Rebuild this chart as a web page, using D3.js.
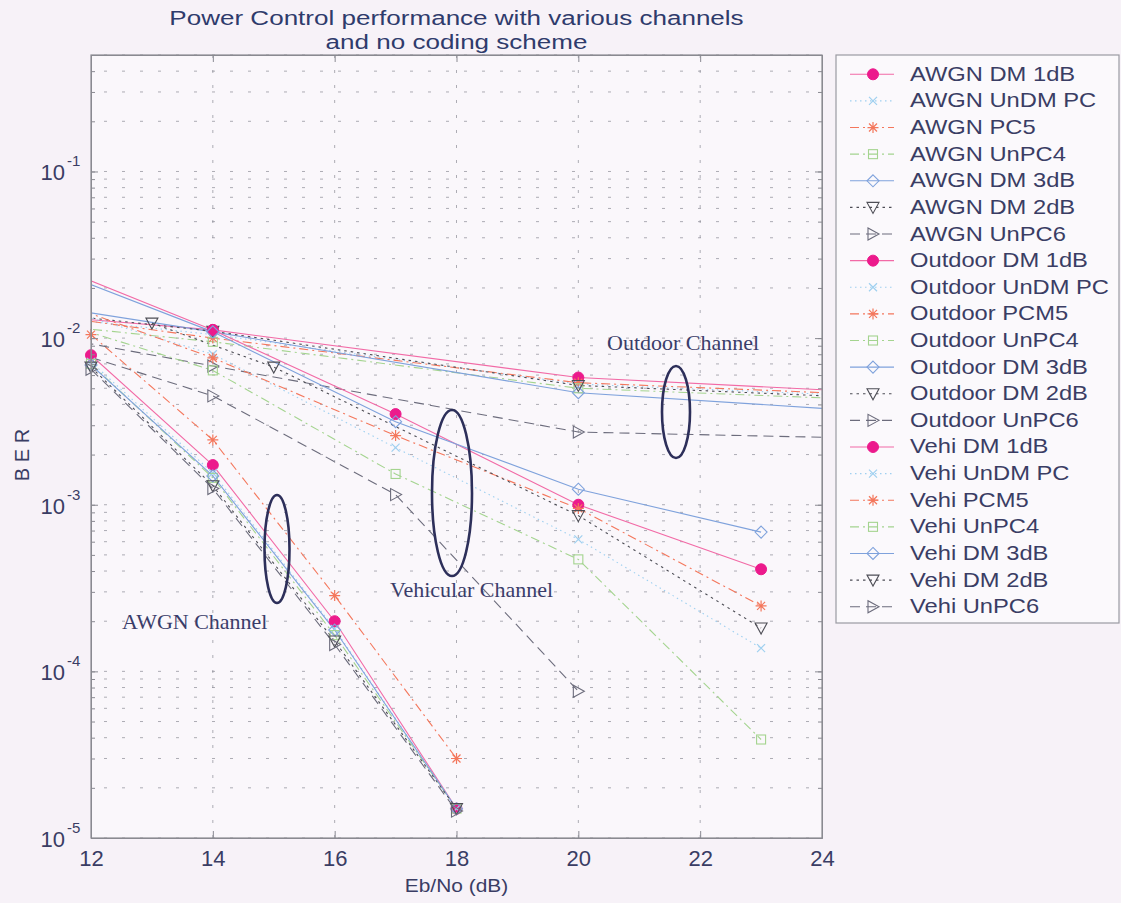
<!DOCTYPE html>
<html><head><meta charset="utf-8">
<script src="https://cdn.jsdelivr.net/npm/d3@7"></script>
<style>
body{margin:0;background:#f7f2f8;}
svg{display:block;}
</style>
</head><body>
<svg id="chart" width="1121" height="903"></svg>
<script>
// ---- axis ticks ----
const xTickValues = [12, 14, 16, 18, 20, 22, 24];
const yTickExponents = [-1, -2, -3, -4, -5];

// ---- AWGN channel (Eb/No points and BER) ----
const awgnX      = [12, 14, 16, 18];
const awgnDM1    = [7.9e-3, 1.73e-3, 2.0e-4, 1.5e-5];
const awgnUnDM   = [7.2e-3, 1.55e-3, 1.8e-4, 1.5e-5];
const awgnPC5    = [1.05e-2, 2.45e-3, 2.85e-4, 3.0e-5];
const awgnUnPC4  = [7.0e-3, 1.45e-3, 1.65e-4, 1.5e-5];
const awgnDM3    = [6.9e-3, 1.49e-3, 1.77e-4, 1.5e-5];
const awgnDM2    = [6.7e-3, 1.30e-3, 1.52e-4, 1.5e-5];
const awgnUnPC6  = [6.5e-3, 1.25e-3, 1.45e-4, 1.45e-5];

// ---- Outdoor channel ----
const outdoorX      = [8, 14, 20, 26];
const outdoorDM1    = [1.71e-2, 1.12e-2, 5.8e-3, 4.5e-3];
const outdoorUnDM   = [1.8e-2, 1.05e-2, 5.3e-3, 4.3e-3];
const outdoorPCM5   = [2.0e-2, 1.0e-2, 5.4e-3, 4.4e-3];
const outdoorUnPC4  = [1.6e-2, 9.5e-3, 5.0e-3, 4.1e-3];
const outdoorDM3    = [2.4e-2, 1.09e-2, 4.7e-3, 3.4e-3];
const outdoorDM2    = [1.9e-2, 1.1e-2, 5.2e-3, 4.2e-3];
const outdoorUnPC6  = [1.7e-2, 6.8e-3, 2.73e-3, 2.45e-3];

// ---- Vehicular channel ----
const vehiX       = [11, 14, 17, 20, 23];
const vehiDM1     = [3.1e-2, 1.12e-2, 3.5e-3, 1.0e-3, 4.1e-4];
const vehiUnDM    = [1.7e-2, 8.0e-3, 2.2e-3, 6.2e-4, 1.38e-4];
const vehiPCM5    = [1.9e-2, 7.6e-3, 2.6e-3, 9.5e-4, 2.47e-4];
const vehiUnPC4   = [1.4e-2, 6.4e-3, 1.53e-3, 4.7e-4, 3.9e-5];
const vehiDM3     = [2.9e-2, 1.09e-2, 3.15e-3, 1.24e-3, 6.85e-4];
const vehiDM2X    = [13, 15, 20, 23];
const vehiDM2     = [1.23e-2, 6.7e-3, 8.6e-4, 1.82e-4];
const vehiUnPC6X  = [11, 14, 17, 20];
const vehiUnPC6   = [1.0e-2, 4.5e-3, 1.15e-3, 7.6e-5];

// ---- legend labels ----
const legendLabels = [
  "AWGN DM 1dB","AWGN UnDM PC","AWGN PC5","AWGN UnPC4","AWGN DM 3dB","AWGN DM 2dB","AWGN UnPC6",
  "Outdoor DM 1dB","Outdoor UnDM PC","Outdoor PCM5","Outdoor UnPC4","Outdoor DM 3dB","Outdoor DM 2dB","Outdoor UnPC6",
  "Vehi DM 1dB","Vehi UnDM PC","Vehi PCM5","Vehi UnPC4","Vehi DM 3dB","Vehi DM 2dB","Vehi UnPC6"
];

// line/marker style per scheme
const styles = {
  dm1:   {color:"#f26aa6", marker:"dot",     dash:null,        mfill:"#ec1a8c"},
  undm:  {color:"#9fd0f0", marker:"x",       dash:"1.5,3.5"},
  pc5:   {color:"#f4775c", marker:"star",    dash:"9,4,2,4"},
  unpc4: {color:"#a4d48f", marker:"square",  dash:"9,4,2,4"},
  dm3:   {color:"#7fa2dc", marker:"diamond", dash:null},
  dm2:   {color:"#4d4d55", marker:"tridown", dash:"2.5,4"},
  unpc6: {color:"#6c6c7c", marker:"triright",dash:"10,6"}
};

const series = [
  {x:awgnX, y:awgnDM1, s:"dm1"}, {x:awgnX, y:awgnUnDM, s:"undm"}, {x:awgnX, y:awgnPC5, s:"pc5"},
  {x:awgnX, y:awgnUnPC4, s:"unpc4"}, {x:awgnX, y:awgnDM3, s:"dm3"}, {x:awgnX, y:awgnDM2, s:"dm2"},
  {x:awgnX, y:awgnUnPC6, s:"unpc6"},
  {x:outdoorX, y:outdoorDM1, s:"dm1"}, {x:outdoorX, y:outdoorUnDM, s:"undm"}, {x:outdoorX, y:outdoorPCM5, s:"pc5"},
  {x:outdoorX, y:outdoorUnPC4, s:"unpc4"}, {x:outdoorX, y:outdoorDM3, s:"dm3"}, {x:outdoorX, y:outdoorDM2, s:"dm2"},
  {x:outdoorX, y:outdoorUnPC6, s:"unpc6"},
  {x:vehiX, y:vehiDM1, s:"dm1"}, {x:vehiX, y:vehiUnDM, s:"undm"}, {x:vehiX, y:vehiPCM5, s:"pc5"},
  {x:vehiX, y:vehiUnPC4, s:"unpc4"}, {x:vehiX, y:vehiDM3, s:"dm3"}, {x:vehiDM2X, y:vehiDM2, s:"dm2"},
  {x:vehiUnPC6X, y:vehiUnPC6, s:"unpc6"}
];

const svg = d3.select("#chart");
const plot = {left:91, right:822, top:55, bottom:838};
const x = d3.scaleLinear().domain([12, 24]).range([plot.left, plot.right]);
const y = d3.scaleLog().domain([1e-5, 0.5]).range([plot.bottom, plot.top]);

const textColor = "#3a3d64";
const sans = "'Liberation Sans', Arial, Helvetica, sans-serif";
const serif = "'Liberation Serif', 'Times New Roman', serif";

// text helper with optional horizontal stretch
function addText(parent, str, tx, ty, opts) {
  const sx = opts.sx || 1;
  return parent.append("text")
    .attr("transform", `translate(${tx},${ty}) scale(${sx},1)`)
    .attr("text-anchor", opts.anchor || "start")
    .attr("font-family", opts.family || sans)
    .attr("font-size", opts.size)
    .attr("fill", opts.fill || textColor)
    .text(str);
}

// plot background
svg.append("rect").attr("x", plot.left).attr("y", plot.top)
  .attr("width", plot.right - plot.left).attr("height", plot.bottom - plot.top)
  .attr("fill", "#faf7fb");

// minor log values for grid & ticks
const minorVals = [];
for (let k = -5; k <= -1; k++) for (let m = 1; m <= 9; m++) {
  const v = m * Math.pow(10, k);
  if (v <= 0.5 + 1e-12) minorVals.push(v);
}
const majorVals = yTickExponents.map(e => Math.pow(10, e));

// grid
const grid = svg.append("g").attr("stroke", "#8c8c96").attr("stroke-width", 1).attr("fill", "none");
minorVals.forEach(v => {
  grid.append("line").attr("x1", plot.left).attr("x2", plot.right)
    .attr("y1", y(v)).attr("y2", y(v)).attr("stroke-dasharray", "3,15").attr("stroke-dashoffset", -13)
    .attr("opacity", 0.7);
});
xTickValues.slice(1, -1).forEach(v => {
  grid.append("line").attr("x1", x(v)).attr("x2", x(v))
    .attr("y1", plot.top).attr("y2", plot.bottom).attr("stroke-dasharray", "3,12")
    .attr("opacity", 0.7);
});

// data lines (clipped to plot area)
svg.append("clipPath").attr("id", "plotClip").append("rect")
  .attr("x", plot.left).attr("y", plot.top)
  .attr("width", plot.right - plot.left).attr("height", plot.bottom - plot.top);

const line = d3.line().x(d => x(d[0])).y(d => y(d[1]));
const linesG = svg.append("g").attr("clip-path", "url(#plotClip)");
series.forEach(sr => {
  const st = styles[sr.s];
  const pts = sr.x.map((v, i) => [v, sr.y[i]]);
  linesG.append("path").datum(pts).attr("d", line)
    .attr("fill", "none").attr("stroke", st.color).attr("stroke-width", 1.1)
    .attr("stroke-dasharray", st.dash);
});

// markers
function drawMarker(g, st, cx, cy) {
  const c = st.color;
  switch (st.marker) {
    case "dot":
      g.append("circle").attr("cx", cx).attr("cy", cy).attr("r", 5.5).attr("fill", st.mfill).attr("stroke", st.mfill);
      break;
    case "x":
      g.append("path").attr("d", `M${cx-4},${cy-4}L${cx+4},${cy+4}M${cx-4},${cy+4}L${cx+4},${cy-4}`)
        .attr("stroke", c).attr("stroke-width", 1.2);
      break;
    case "star":
      g.append("path").attr("d",
        `M${cx-5.5},${cy}L${cx+5.5},${cy}M${cx},${cy-5.5}L${cx},${cy+5.5}M${cx-4},${cy-4}L${cx+4},${cy+4}M${cx-4},${cy+4}L${cx+4},${cy-4}`)
        .attr("stroke", c).attr("stroke-width", 1.2);
      break;
    case "square":
      g.append("rect").attr("x", cx-4.5).attr("y", cy-4.5).attr("width", 9).attr("height", 9)
        .attr("fill", "none").attr("stroke", c).attr("stroke-width", 1.1);
      break;
    case "diamond":
      g.append("path").attr("d", `M${cx},${cy-6}L${cx+6},${cy}L${cx},${cy+6}L${cx-6},${cy}Z`)
        .attr("fill", "none").attr("stroke", c).attr("stroke-width", 1.1);
      break;
    case "tridown":
      g.append("path").attr("d", `M${cx-6},${cy-5}L${cx+6},${cy-5}L${cx},${cy+6}Z`)
        .attr("fill", "none").attr("stroke", c).attr("stroke-width", 1.1);
      break;
    case "triright":
      g.append("path").attr("d", `M${cx-5},${cy-6}L${cx-5},${cy+6}L${cx+6},${cy}Z`)
        .attr("fill", "none").attr("stroke", c).attr("stroke-width", 1.1);
      break;
  }
}
const markersG = svg.append("g");
series.forEach(sr => {
  const st = styles[sr.s];
  sr.x.forEach((v, i) => {
    const val = sr.y[i];
    if (v < 12 || v > 24 || val < 1e-5 || val > 0.5) return;
    drawMarker(markersG, st, x(v), y(val));
  });
});

// frame and ticks (box on all four sides, ticks pointing inward)
const axisColor = "#8a8a92";
const frame = svg.append("g");
const xb = frame.append("g").attr("transform", `translate(0,${plot.bottom})`)
  .call(d3.axisBottom(x).tickValues(xTickValues).tickSizeInner(-7).tickSizeOuter(0).tickPadding(12).tickFormat(d3.format("d")));
frame.append("g").attr("transform", `translate(0,${plot.top})`)
  .call(d3.axisTop(x).tickValues(xTickValues).tickSizeInner(-7).tickSizeOuter(0).tickFormat(""));
frame.append("g").attr("transform", `translate(${plot.left},0)`)
  .call(d3.axisLeft(y).tickValues(majorVals).tickSizeInner(-7).tickSizeOuter(0).tickFormat(""));
frame.append("g").attr("transform", `translate(${plot.left},0)`)
  .call(d3.axisLeft(y).tickValues(minorVals).tickSizeInner(-4).tickSizeOuter(0).tickFormat(""));
frame.append("g").attr("transform", `translate(${plot.right},0)`)
  .call(d3.axisRight(y).tickValues(majorVals).tickSizeInner(-7).tickSizeOuter(0).tickFormat(""));
frame.append("g").attr("transform", `translate(${plot.right},0)`)
  .call(d3.axisRight(y).tickValues(minorVals).tickSizeInner(-4).tickSizeOuter(0).tickFormat(""));
frame.selectAll(".domain").attr("stroke", axisColor);
frame.selectAll(".tick line").attr("stroke", axisColor);
xb.selectAll(".tick text").attr("font-family", sans).attr("font-size", 22).attr("fill", textColor);
frame.append("rect").attr("x", plot.left).attr("y", plot.top)
  .attr("width", plot.right - plot.left).attr("height", plot.bottom - plot.top)
  .attr("fill", "none").attr("stroke", axisColor).attr("stroke-width", 1.2);

// y tick labels: 10 with superscript exponent
yTickExponents.forEach(e => {
  const ty = y(Math.pow(10, e));
  addText(svg, "10", 65, ty + 9, {size:22, anchor:"end"});
  addText(svg, "-" + Math.abs(e), 67, ty - 5, {size:15});
});

// axis titles
addText(svg, "Eb/No (dB)", (plot.left + plot.right) / 2, 892, {size:19, anchor:"middle", sx:1.1});
svg.append("text").attr("transform", `translate(29,455) rotate(-90)`).attr("text-anchor", "middle")
  .attr("font-family", sans).attr("font-size", 20).attr("fill", textColor).text("B E R");

// title
addText(svg, "Power Control performance with various channels", (plot.left + plot.right) / 2, 25,
  {size:21, anchor:"middle", sx:1.24, fill:"#2f3b6c"});
addText(svg, "and no coding scheme", (plot.left + plot.right) / 2, 49,
  {size:21, anchor:"middle", sx:1.24, fill:"#2f3b6c"});

// channel annotations
const annColor = "#2d2f5a";
[[277, 549, 12.5, 54], [452, 493, 20, 83], [676, 412, 14, 46]].forEach(el => {
  svg.append("ellipse").attr("cx", el[0]).attr("cy", el[1]).attr("rx", el[2]).attr("ry", el[3])
    .attr("fill", "none").attr("stroke", annColor).attr("stroke-width", 2.6);
});
[["AWGN Channel", 122, 629], ["Vehicular Channel", 390, 597], ["Outdoor Channel", 607, 350]].forEach(a => {
  addText(svg, a[0], a[1], a[2], {size:22, family:serif, fill:"#3a3d6a"});
});

// legend
const legendSeries = ["dm1","undm","pc5","unpc4","dm3","dm2","unpc6"];
const lg = svg.append("g");
lg.append("rect").attr("x", 836).attr("y", 55).attr("width", 283).attr("height", 568)
  .attr("fill", "#fbf9fc").attr("stroke", "#9a9aa2").attr("stroke-width", 1.2);
legendLabels.forEach((lab, i) => {
  const st = styles[legendSeries[i % 7]];
  const ly = 74.3 + i * 26.62;
  lg.append("line").attr("x1", 850).attr("x2", 894).attr("y1", ly).attr("y2", ly)
    .attr("stroke", st.color).attr("stroke-width", 1.1).attr("stroke-dasharray", st.dash);
  drawMarker(lg, st, 873, ly);
  addText(lg, lab, 910, ly + 6.5, {size:21, sx:1.13});
});
</script>
</body></html>
